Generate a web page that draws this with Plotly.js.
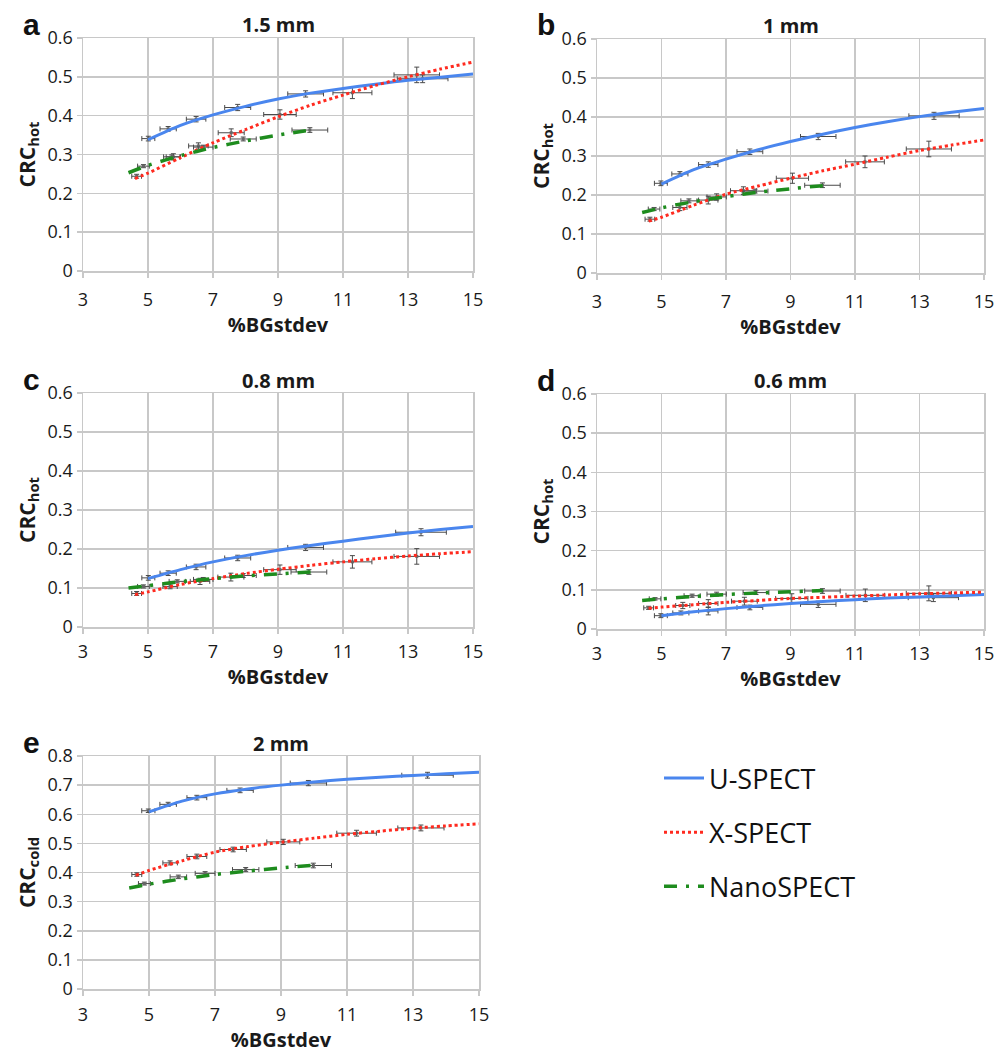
<!DOCTYPE html>
<html>
<head>
<meta charset="utf-8">
<script src="https://cdn.plot.ly/plotly-3.0.1.min.js"></script>
<style>html,body{margin:0;padding:0;background:#fff;}#chart{width:1005px;height:1054px;}</style>
</head>
<body>
<div id="chart"></div>
<script>
// ---------- data ----------
const xTicks = [3, 5, 7, 9, 11, 13, 15];
const seriesNames = ['U-SPECT', 'X-SPECT', 'NanoSPECT'];
const panelTitles = ['1.5 mm', '1 mm', '0.8 mm', '0.6 mm', '2 mm'];
const panelLetters = ['a', 'b', 'c', 'd', 'e'];

// horizontal error half-widths (same acquisitions in every panel)
const U_ex = [0.2, 0.25, 0.3, 0.4, 0.55, 0.78];
const X_ex = [0.15, 0.22, 0.3, 0.4, 0.5, 0.6, 0.7];
const N_ex = [0.18, 0.25, 0.3, 0.4, 0.55];

// fitted trend-line sample positions
const fitU_x = [5, 6, 7, 8, 9, 10, 11, 12, 13, 14, 15];
const fitX_x = [4.6, 5, 6, 7, 8, 9, 10, 11, 12, 13, 14, 15];
const fitN_x = [4.4, 5, 6, 7, 8, 9, 10];

// panel a (1.5 mm)
const aU_x = [5.01, 5.62, 6.48, 7.76, 9.85, 13.45];
const aU_y = [0.341, 0.366, 0.391, 0.421, 0.456, 0.495];
const aU_ey = [0.006, 0.006, 0.007, 0.008, 0.008, 0.010];
const aX_x = [4.65, 5.78, 6.55, 7.56, 9.06, 11.29, 13.27];
const aX_y = [0.244, 0.294, 0.322, 0.356, 0.403, 0.459, 0.505];
const aX_ey = [0.005, 0.008, 0.008, 0.010, 0.012, 0.015, 0.020];
const aN_x = [4.86, 5.73, 6.70, 7.93, 9.98];
const aN_y = [0.270, 0.294, 0.319, 0.340, 0.363];
const aN_ey = [0.004, 0.005, 0.005, 0.005, 0.006];
const aU_fit = [0.338, 0.375, 0.402, 0.424, 0.443, 0.458, 0.470, 0.481, 0.491, 0.499, 0.507];
const aX_fit = [0.238, 0.252, 0.292, 0.330, 0.364, 0.397, 0.427, 0.453, 0.478, 0.500, 0.520, 0.538];
const aN_fit = [0.253, 0.272, 0.297, 0.318, 0.335, 0.350, 0.363];

// panel b (1 mm)
const bU_x = [4.98, 5.57, 6.45, 7.74, 9.86, 13.45];
const bU_y = [0.230, 0.254, 0.278, 0.311, 0.350, 0.403];
const bU_ey = [0.006, 0.006, 0.007, 0.007, 0.008, 0.009];
const bX_x = [4.64, 5.57, 6.45, 7.54, 9.06, 11.31, 13.29];
const bX_y = [0.138, 0.168, 0.187, 0.211, 0.243, 0.285, 0.318];
const bX_ey = [0.005, 0.008, 0.010, 0.010, 0.013, 0.015, 0.020];
const bN_x = [4.77, 5.85, 6.71, 7.90, 9.99];
const bN_y = [0.164, 0.185, 0.195, 0.210, 0.225];
const bN_ey = [0.004, 0.005, 0.008, 0.005, 0.006];
const bU_fit = [0.228, 0.265, 0.292, 0.316, 0.337, 0.356, 0.373, 0.388, 0.401, 0.412, 0.422];
const bX_fit = [0.133, 0.143, 0.174, 0.202, 0.223, 0.243, 0.262, 0.279, 0.297, 0.314, 0.328, 0.341];
const bN_fit = [0.155, 0.167, 0.183, 0.196, 0.207, 0.216, 0.224];

// panel c (0.8 mm)
const cU_x = [5.01, 5.62, 6.48, 7.76, 9.85, 13.40];
const cU_y = [0.126, 0.138, 0.154, 0.177, 0.204, 0.243];
const cU_ey = [0.006, 0.006, 0.007, 0.007, 0.008, 0.009];
const cX_x = [4.65, 5.68, 6.60, 7.55, 9.06, 11.29, 13.27];
const cX_y = [0.086, 0.104, 0.117, 0.128, 0.147, 0.167, 0.181];
const cX_ey = [0.005, 0.006, 0.008, 0.010, 0.012, 0.016, 0.020];
const cN_x = [4.86, 5.90, 6.70, 7.93, 9.95];
const cN_y = [0.104, 0.117, 0.122, 0.132, 0.141];
const cN_ey = [0.004, 0.004, 0.005, 0.005, 0.006];
const cU_fit = [0.124, 0.147, 0.167, 0.183, 0.197, 0.209, 0.220, 0.231, 0.241, 0.250, 0.258];
const cX_fit = [0.083, 0.090, 0.109, 0.124, 0.137, 0.148, 0.158, 0.167, 0.175, 0.182, 0.188, 0.193];
const cN_fit = [0.100, 0.106, 0.116, 0.124, 0.131, 0.136, 0.141];

// panel d (0.6 mm)
const dU_x = [4.98, 5.60, 6.45, 7.74, 9.86, 13.43];
const dU_y = [0.034, 0.041, 0.046, 0.055, 0.063, 0.080];
const dU_ey = [0.005, 0.005, 0.010, 0.006, 0.008, 0.010];
const dX_x = [4.60, 5.66, 6.45, 7.57, 9.04, 11.32, 13.29];
const dX_y = [0.054, 0.060, 0.065, 0.071, 0.078, 0.086, 0.091];
const dX_ey = [0.004, 0.008, 0.010, 0.010, 0.012, 0.016, 0.019];
const dN_x = [4.80, 5.95, 6.71, 7.93, 9.99];
const dN_y = [0.077, 0.085, 0.089, 0.093, 0.097];
const dN_ey = [0.003, 0.004, 0.005, 0.005, 0.006];
const dU_fit = [0.034, 0.044, 0.052, 0.059, 0.065, 0.070, 0.075, 0.079, 0.082, 0.085, 0.088];
const dX_fit = [0.053, 0.056, 0.062, 0.068, 0.073, 0.078, 0.081, 0.084, 0.087, 0.090, 0.092, 0.094];
const dN_fit = [0.073, 0.077, 0.083, 0.088, 0.092, 0.095, 0.098];

// panel e (2 mm, cold)
const eU_x = [4.98, 5.58, 6.45, 7.76, 9.83, 13.44];
const eU_y = [0.612, 0.634, 0.657, 0.682, 0.707, 0.734];
const eU_ey = [0.006, 0.007, 0.008, 0.008, 0.009, 0.010];
const eX_x = [4.63, 5.64, 6.45, 7.55, 9.07, 11.29, 13.24];
const eX_y = [0.393, 0.433, 0.455, 0.479, 0.505, 0.535, 0.553];
const eX_ey = [0.006, 0.007, 0.008, 0.008, 0.009, 0.010, 0.010];
const eN_x = [4.86, 5.89, 6.70, 7.93, 9.98];
const eN_y = [0.362, 0.385, 0.397, 0.410, 0.424];
const eN_ey = [0.005, 0.006, 0.006, 0.007, 0.008];
const eU_fit = [0.608, 0.645, 0.670, 0.687, 0.700, 0.711, 0.720, 0.727, 0.733, 0.739, 0.744];
const eX_fit = [0.390, 0.407, 0.440, 0.470, 0.489, 0.504, 0.518, 0.531, 0.542, 0.552, 0.560, 0.567];
const eN_fit = [0.347, 0.360, 0.378, 0.393, 0.405, 0.416, 0.425];

// ---------- styling ----------
const FONT = 'Open Sans, Noto Sans, sans-serif';
const GRID = '#c8c8c8';
const ERR = '#4a4a4a';
const COL = {U: '#4a86ee', X: '#ff2a1f', N: '#1e8c1e'};
const LINE = {
  U: {color: COL.U, width: 3, dash: 'solid'},
  X: {color: COL.X, width: 3, dash: 'dot'},
  N: {color: COL.N, width: 3.5, dash: '13px,9px,3px,9px'}
};

const panels = [
  {U: [aU_x, aU_y, aU_ey, aU_fit], X: [aX_x, aX_y, aX_ey, aX_fit], N: [aN_x, aN_y, aN_ey, aN_fit], ymax: 0.6, ylab: 'CRC<sub>hot</sub>'},
  {U: [bU_x, bU_y, bU_ey, bU_fit], X: [bX_x, bX_y, bX_ey, bX_fit], N: [bN_x, bN_y, bN_ey, bN_fit], ymax: 0.6, ylab: 'CRC<sub>hot</sub>'},
  {U: [cU_x, cU_y, cU_ey, cU_fit], X: [cX_x, cX_y, cX_ey, cX_fit], N: [cN_x, cN_y, cN_ey, cN_fit], ymax: 0.6, ylab: 'CRC<sub>hot</sub>'},
  {U: [dU_x, dU_y, dU_ey, dU_fit], X: [dX_x, dX_y, dX_ey, dX_fit], N: [dN_x, dN_y, dN_ey, dN_fit], ymax: 0.6, ylab: 'CRC<sub>hot</sub>'},
  {U: [eU_x, eU_y, eU_ey, eU_fit], X: [eX_x, eX_y, eX_ey, eX_fit], N: [eN_x, eN_y, eN_ey, eN_fit], ymax: 0.8, ylab: 'CRC<sub>cold</sub>'}
];

// plot-area pixel boxes [left, right, top, bottom, tickLabelGap, titleGap] within a 1005 x 1054 figure
const W = 1005, H = 1054;
const boxes = [
  [83, 473, 38, 271, 7, 1],
  [597, 984, 39, 273, 7, 1],
  [83, 473, 393, 627, 3, 1],
  [597, 984, 394, 629, 3, 1],
  [83, 479, 756, 989, 4, 6]
];
const exBy = {U: U_ex, X: X_ex, N: N_ex};
const fitXBy = {U: fitU_x, X: fitX_x, N: fitN_x};
const nameBy = {U: seriesNames[0], X: seriesNames[1], N: seriesNames[2]};

const traces = [];
const layout = {
  width: W, height: H, autosize: false,
  margin: {l: 0, r: 0, t: 0, b: 0},
  paper_bgcolor: '#fff', plot_bgcolor: '#fff',
  font: {family: FONT, color: '#1a1a1a'},
  showlegend: true,
  legend: {
    x: 659 / W, y: 1 - 754 / H, xanchor: 'left', yanchor: 'top',
    font: {family: FONT, size: 27, color: '#111'},
    traceorder: 'grouped', tracegroupgap: 16,
    bgcolor: 'rgba(0,0,0,0)', borderwidth: 0, itemwidth: 40
  },
  annotations: []
};

panels.forEach((p, i) => {
  const n = i === 0 ? '' : String(i + 1);
  const xa = 'x' + n, ya = 'y' + n;
  const b = boxes[i];
  layout['xaxis' + n] = {
    domain: [b[0] / W, b[1] / W], anchor: ya, range: [3, 15],
    tickvals: xTicks, ticktext: xTicks.map(String),
    showgrid: true, gridcolor: GRID, gridwidth: 1.5,
    showline: true, linecolor: GRID, linewidth: 1.5, mirror: true,
    ticks: 'outside', ticklen: 5, tickcolor: GRID, tickwidth: 1.5,
    ticklabelstandoff: b[4],
    zeroline: false, fixedrange: true,
    tickfont: {family: FONT, size: 18, color: '#1a1a1a'},
    title: {text: '%BGstdev', standoff: b[5], font: {family: FONT, size: 20, weight: 700, color: '#1a1a1a'}}
  };
  layout['yaxis' + n] = {
    domain: [1 - b[3] / H, 1 - b[2] / H], anchor: xa, range: [0, p.ymax],
    dtick: 0.1, tick0: 0,
    showgrid: true, gridcolor: GRID, gridwidth: 1.5,
    showline: true, linecolor: GRID, linewidth: 1.5, mirror: true,
    ticks: 'outside', ticklen: 5, tickcolor: GRID, tickwidth: 1.5,
    zeroline: false, fixedrange: true,
    tickfont: {family: FONT, size: 18, color: '#1a1a1a'},
    title: {text: p.ylab, standoff: 6, font: {family: FONT, size: 21, weight: 700, color: '#1a1a1a'}}
  };
  // measured points with error bars
  ['U', 'X', 'N'].forEach(k => {
    const d = p[k];
    traces.push({
      type: 'scatter', mode: 'markers', x: d[0], y: d[1], xaxis: xa, yaxis: ya,
      marker: {size: 3, color: '#666', symbol: 'square'},
      error_x: {type: 'data', array: exBy[k], visible: true, color: ERR, thickness: 1, width: 2.5},
      error_y: {type: 'data', array: d[2], visible: true, color: ERR, thickness: 1, width: 2.5},
      showlegend: false, hoverinfo: 'x+y'
    });
  });
  // trend lines
  ['U', 'X', 'N'].forEach(k => {
    const d = p[k];
    traces.push({
      type: 'scatter', mode: 'lines', x: fitXBy[k], y: d[3], xaxis: xa, yaxis: ya,
      line: Object.assign({shape: 'spline', smoothing: 0.8}, LINE[k]),
      name: nameBy[k], legendgroup: k, showlegend: i === 0, hoverinfo: 'skip'
    });
  });
  // panel title and letter
  layout.annotations.push({
    xref: 'paper', yref: 'paper', x: (b[0] + b[1]) / 2 / W, y: 1 - (b[2] - 13) / H,
    xanchor: 'center', yanchor: 'middle', showarrow: false,
    text: panelTitles[i], font: {family: FONT, size: 20, weight: 700, color: '#1a1a1a'}
  });
  layout.annotations.push({
    xref: 'paper', yref: 'paper', x: (b[0] - 62) / W, y: 1 - (b[2] - 14) / H,
    xanchor: 'left', yanchor: 'middle', showarrow: false,
    text: panelLetters[i], font: {family: 'Liberation Sans, Arial, sans-serif', size: 30, weight: 700, color: '#111'}
  });
});

Plotly.newPlot('chart', traces, layout, {staticPlot: true, displayModeBar: false});
</script>
</body>
</html>
